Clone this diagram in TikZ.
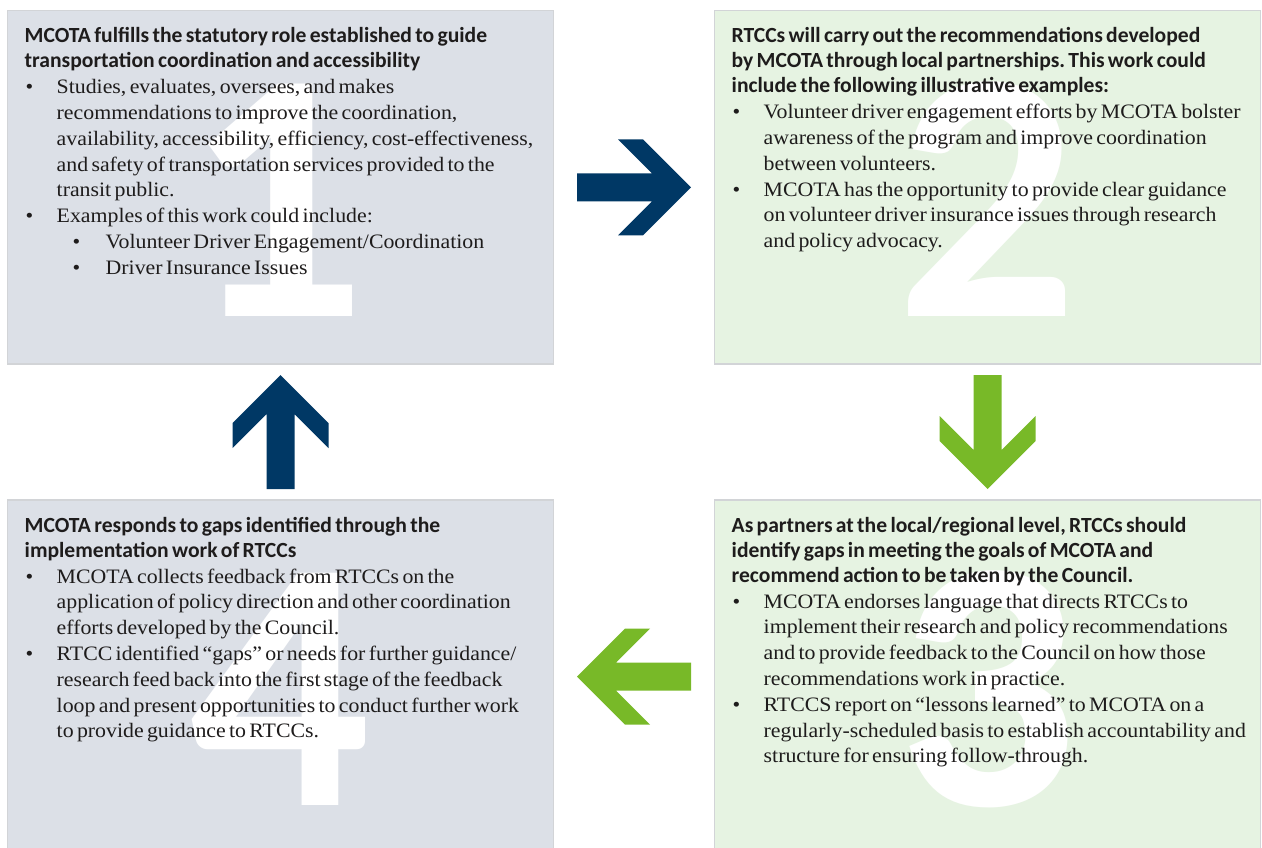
\documentclass[tikz,border=0pt]{standalone}
\usepackage{fontspec}
\setmainfont{Liberation Serif}[FakeStretch=1.065]
\newfontfamily\headfont{Carlito}
\usetikzlibrary{calc}

\definecolor{panelgray}{RGB}{220,224,231}
\definecolor{panelgreen}{RGB}{230,243,226}
\definecolor{panelline}{RGB}{210,212,215}
\definecolor{navyarrow}{RGB}{0,56,101}
\definecolor{leafarrow}{RGB}{120,185,40}
\definecolor{ink}{RGB}{30,28,28}

% heading paragraph, first baseline 20bp below the top of the text block
\newcommand{\headline}[1]{{\noindent\headfont\bfseries\fontsize{21.6bp}{25bp}\selectfont\rule{0pt}{20bp}#1\par}}
% bullet item and nested bullet item
\newcommand{\pitem}[1]{{\fontsize{20.5bp}{25.8bp}\selectfont\hangindent=32bp\hangafter=0\noindent\llap{\makebox[32bp][l]{\hspace{1bp}\textbullet}}#1\par}}
\newcommand{\sitem}[1]{{\fontsize{20.5bp}{25.8bp}\selectfont\hangindent=81bp\hangafter=0\noindent\llap{\makebox[81bp][l]{\hspace{48bp}\textbullet}}#1\par}}

\tikzset{
  panel/.style={draw=panelline, line width=1.5bp, minimum width=546bp,
    minimum height=353.3bp, inner sep=0pt, outer sep=0pt},
  graypanel/.style={panel, fill=panelgray},
  greenpanel/.style={panel, fill=panelgreen},
  bignum/.style={text=white, anchor=base, inner sep=0pt,
    font=\headfont\bfseries\fontsize{358bp}{358bp}\selectfont},
  paneltext/.style={anchor=north west, inner sep=0pt, text width=600bp,
    align=left, text=ink, font=\frenchspacing},
  chev/.pic={\fill[pic actions] (-57,-14) -- (18,-14) -- (-16,-48) -- (9,-48)
    -- (57,0) -- (9,48) -- (-16,48) -- (18,14) -- (-57,14) -- cycle;}
}

\begin{document}
\begin{tikzpicture}[x=1bp, y=-1bp]
\useasboundingbox (0,0) rectangle (1262,848);
\clip (0,0) rectangle (1262,848);
\fill[white] (0,0) rectangle (1262,848);

% the four panels
\node[graypanel]  (b1) at (280.5,187.35) {};
\node[greenpanel] (b2) at (987.5,187.35) {};
\node[greenpanel] (b3) at (987.5,676.65) {};
\node[graypanel]  (b4) at (280.5,676.65) {};

% stage numbers behind the text
\node[bignum] (n1) at ($(b1.north)+(-5,305.5)$) {1};
\node[bignum] (n2) at ($(b2.north)+(0,305.5)$) {2};
\node[bignum] (n3) at ($(b3.north)+(0,305.5)$) {3};
\node[bignum] (n4) at ($(b4.north)+(0,305.5)$) {4};

% panel texts
\node[paneltext] (t1) at ($(b1.north west)+(17,12)$) {%
  \headline{MCOTA fulfills the statutory role established to guide\newline
    transportation coordination and accessibility}%
  \pitem{Studies, evaluates, oversees, and makes\newline
    recommendations to improve the coordination,\newline
    availability, accessibility, efficiency, cost-effectiveness,\newline
    and safety of transportation services provided to the\newline
    transit public.}%
  \pitem{Examples of this work could include:}%
  \sitem{Volunteer Driver Engagement/Coordination}%
  \sitem{Driver Insurance Issues}};

\node[paneltext] (t2) at ($(b2.north west)+(17,12)$) {%
  \headline{RTCCs will carry out the recommendations developed\newline
    by MCOTA through local partnerships. This work could\newline
    include the following illustrative examples:}%
  \pitem{Volunteer driver engagement efforts by MCOTA bolster\newline
    awareness of the program and improve coordination\newline
    between volunteers.}%
  \pitem{MCOTA has the opportunity to provide clear guidance\newline
    on volunteer driver insurance issues through research\newline
    and policy advocacy.}};

\node[paneltext] (t3) at ($(b3.north west)+(17,12)$) {%
  \headline{As partners at the local/regional level, RTCCs should\newline
    identify gaps in meeting the goals of MCOTA and\newline
    recommend action to be taken by the Council.}%
  \pitem{MCOTA endorses language that directs RTCCs to\newline
    implement their research and policy recommendations\newline
    and to provide feedback to the Council on how those\newline
    recommendations work in practice.}%
  \pitem{RTCCS report on “lessons learned” to MCOTA on a\newline
    regularly-scheduled basis to establish accountability and\newline
    structure for ensuring follow-through.}};

\node[paneltext] (t4) at ($(b4.north west)+(17,12)$) {%
  \headline{MCOTA responds to gaps identified through the\newline
    implementation work of RTCCs}%
  \pitem{MCOTA collects feedback from RTCCs on the\newline
    application of policy direction and other coordination\newline
    efforts developed by the Council.}%
  \pitem{RTCC identified “gaps” or needs for further guidance/\newline
    research feed back into the first stage of the feedback\newline
    loop and present opportunities to conduct further work\newline
    to provide guidance to RTCCs.}};

% cycle arrows between the panels
\pic[fill=navyarrow] (a12) at ($(b1.east)!0.5!(b2.west)$) {chev};
\pic[fill=leafarrow, rotate=-90] (a23) at ($(b2.south)!0.5!(b3.north)$) {chev};
\pic[fill=leafarrow, rotate=180] (a34) at ($(b3.west)!0.5!(b4.east)$) {chev};
\pic[fill=navyarrow, rotate=90] (a41) at ($(b4.north)!0.5!(b1.south)$) {chev};
\end{tikzpicture}
\end{document}
